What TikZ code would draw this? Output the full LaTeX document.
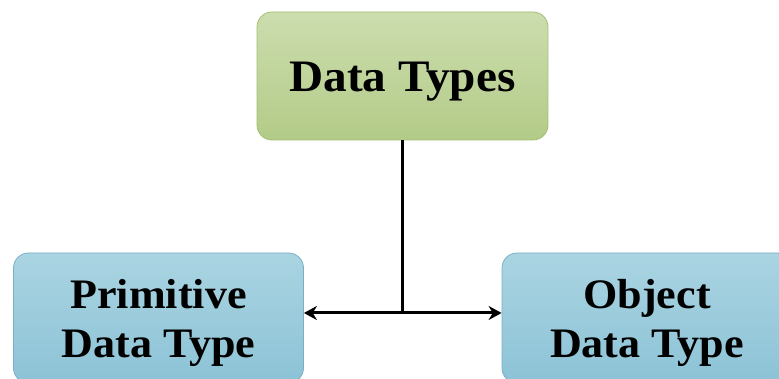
\documentclass[tikz,border=0pt]{standalone}
\usepackage{fontspec}
\setmainfont[FakeStretch=1.05]{Liberation Serif}
\usetikzlibrary{arrows.meta}
\definecolor{gtop}{HTML}{CCDDAE}
\definecolor{gbot}{HTML}{B3CB88}
\definecolor{gbord}{HTML}{A3BF72}
\definecolor{btop}{HTML}{AAD4E2}
\definecolor{bbot}{HTML}{8CC3D6}
\definecolor{bbord}{HTML}{79B0C6}
\tikzset{
  box/.style={draw, line width=0.8pt, rounded corners=15pt, inner sep=0pt, align=center},
  greenbox/.style={box, draw=gbord, top color=gtop, bottom color=gbot,
    minimum width=291pt, minimum height=128pt,
    font=\fontsize{45}{49}\selectfont\bfseries, text height=32pt, text depth=0pt},
  bluebox/.style={box, draw=bbord, top color=btop, bottom color=bbot,
    minimum width=290pt, minimum height=130pt,
    font=\fontsize{42}{49}\selectfont\bfseries, text height=80pt, text depth=2pt},
  conn/.style={line width=3pt, black},
  arr/.style={conn, -{Stealth[length=13pt,width=14pt]}}
}
\begin{document}
\begin{tikzpicture}[x=1pt,y=-1pt]
\useasboundingbox (0,0) rectangle (779,379);
\clip (0,0) rectangle (779,379);
\node[greenbox] (top) at (402.5,76) {Data Types};
\node[bluebox] (left) at (158.5,318) {Primitive\\Data Type};
\node[bluebox] (right) at (647,318) {Object\\Data Type};
\coordinate (j) at (402.5,313);
\draw[conn] (top.south) -- (j);
\draw[arr] (j) -- (j -| left.east);
\draw[arr] (j) -- (j -| right.west);
\end{tikzpicture}
\end{document}
